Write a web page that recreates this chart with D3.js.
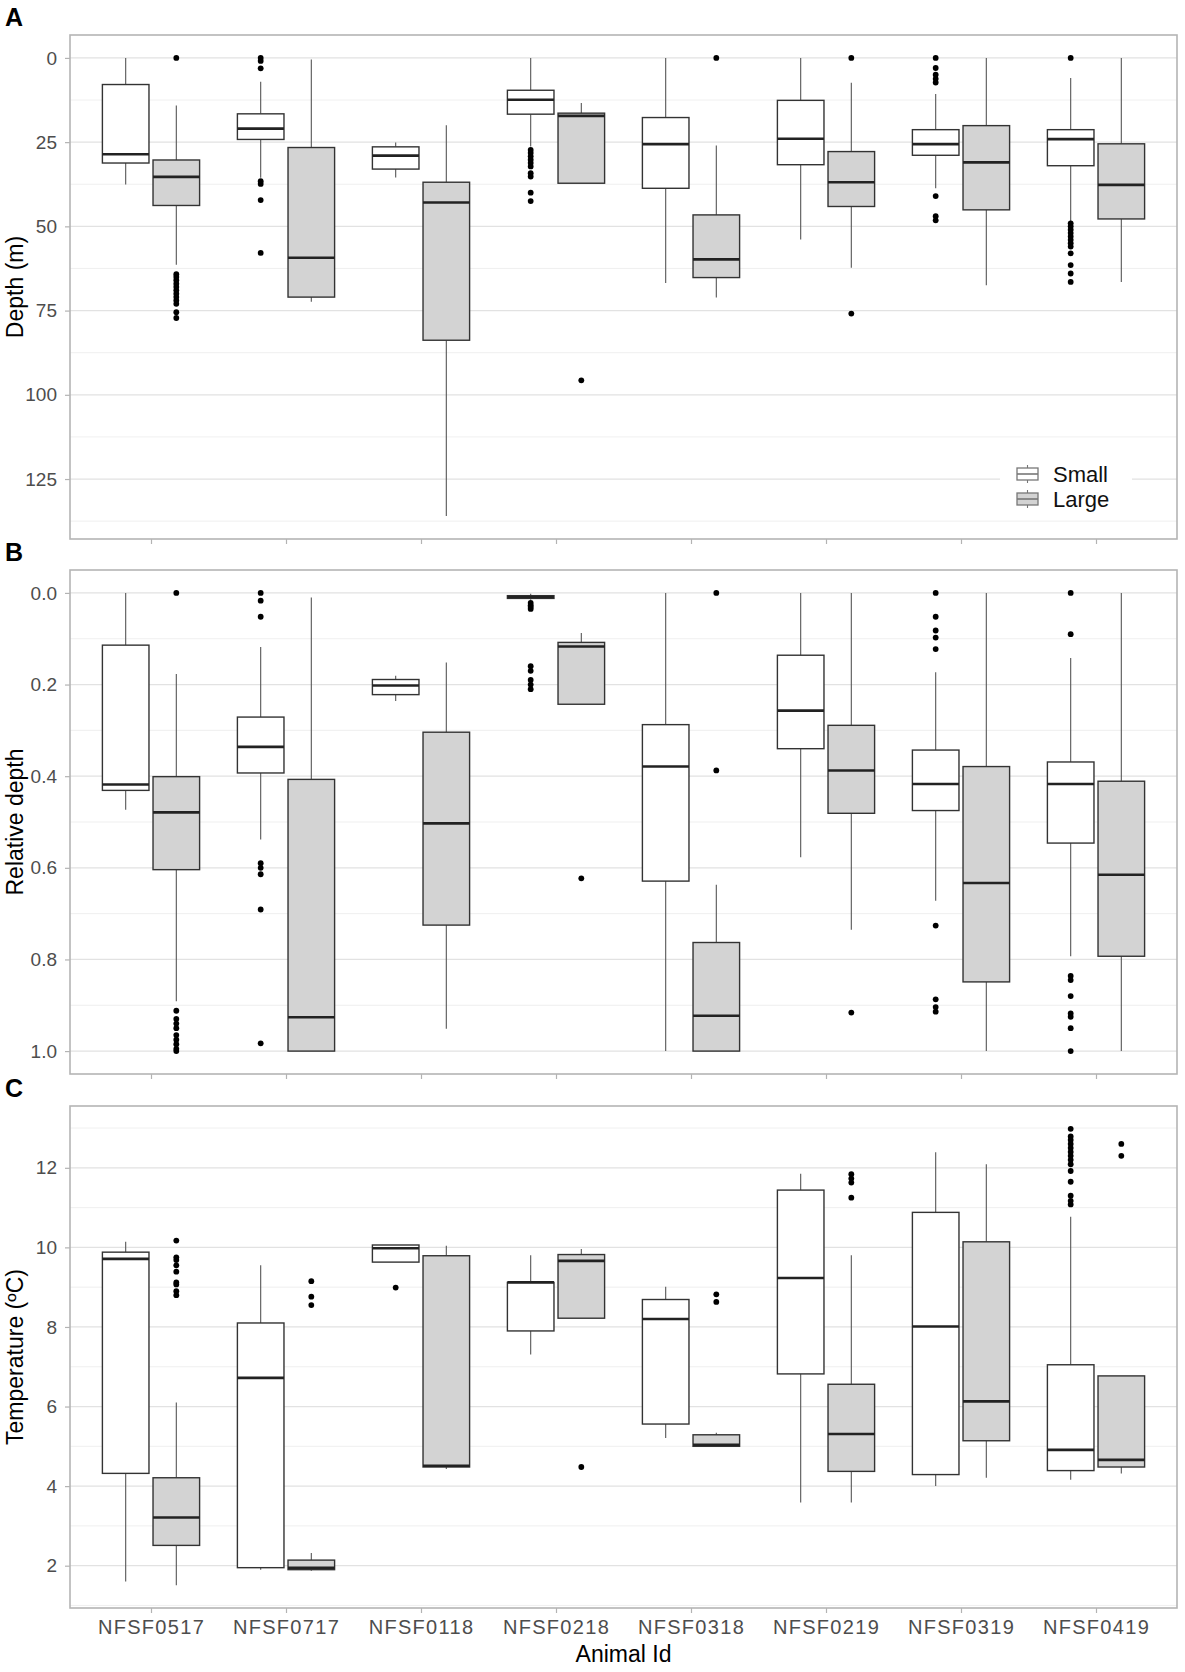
<!DOCTYPE html>
<html><head><meta charset="utf-8">
<script src="https://cdn.jsdelivr.net/npm/d3@7"></script>
<style>
body{margin:0;background:#fff}
svg{display:block}
text{font-family:"Liberation Sans",Arial,Helvetica,sans-serif}
</style>
</head><body>
<svg id="chart" width="1185" height="1672"></svg>
<script>
// ---------- data ----------
const animals = ["NFSF0517","NFSF0717","NFSF0118","NFSF0218","NFSF0318","NFSF0219","NFSF0319","NFSF0419"];
const sizeGroups = ["Small","Large"];

// each box: [lower whisker, Q1, median, Q3, upper whisker]
const depthSmall = [
  [0, 7.9, 28.6, 31.2, 37.6], [7.1, 16.6, 21.0, 24.2, 35.6], [25.1, 26.4, 29.0, 33.0, 35.5],
  [0, 9.6, 12.4, 16.7, 26.3], [0, 17.7, 25.6, 38.7, 66.8], [0, 12.6, 24.0, 31.7, 53.9],
  [10.7, 21.3, 25.6, 28.9, 38.7], [6.0, 21.3, 24.1, 32.0, 48.6]
];
const depthLarge = [
  [14.1, 30.3, 35.3, 43.8, 61.4], [0.5, 26.6, 59.3, 71.0, 72.4], [20.0, 36.9, 42.9, 83.8, 136.0],
  [13.4, 16.4, 17.2, 37.2, 37.2], [26.0, 46.6, 59.8, 65.2, 71.1], [7.4, 27.8, 36.9, 44.1, 62.3],
  [0, 20.1, 31.0, 45.1, 67.5], [0, 25.5, 37.7, 47.8, 66.5]
];
const depthSmallOut = [
  [], [0, 0.9, 3.1, 36.6, 37.4, 42.2, 57.9], [],
  [27.3, 28.2, 29.2, 30.2, 31.2, 32.2, 34.2, 35.2, 40.0, 42.5], [], [],
  [0, 3.0, 5.0, 6.2, 7.3, 41.0, 47.0, 48.2],
  [0, 49.1, 50.0, 51.0, 52.0, 53.0, 54.0, 55.0, 56.0, 58.0, 61.5, 64.0, 66.5]
];
const depthLargeOut = [
  [0, 64.2, 65.0, 66.0, 67.0, 68.0, 69.0, 70.0, 71.0, 72.0, 73.0, 75.5, 77.2], [], [],
  [95.7], [0], [0, 75.9], [], []
];

const relSmall = [
  [0, 0.114, 0.418, 0.431, 0.473], [0.118, 0.271, 0.336, 0.393, 0.538], [0.181, 0.189, 0.202, 0.222, 0.236],
  [0.002, 0.006, 0.009, 0.012, 0.015], [0, 0.2875, 0.379, 0.629, 1.0], [0, 0.136, 0.257, 0.340, 0.577],
  [0.173, 0.343, 0.417, 0.475, 0.672], [0.142, 0.369, 0.417, 0.546, 0.793]
];
const relLarge = [
  [0.177, 0.401, 0.479, 0.604, 0.891], [0.01, 0.407, 0.926, 1.0, 1.0], [0.152, 0.304, 0.503, 0.725, 0.951],
  [0.0875, 0.108, 0.117, 0.243, 0.243], [0.637, 0.763, 0.923, 1.0, 1.0], [0, 0.289, 0.3875, 0.481, 0.735],
  [0, 0.379, 0.633, 0.849, 1.0], [0, 0.411, 0.615, 0.793, 1.0]
];
const relSmallOut = [
  [], [0, 0.017, 0.052, 0.59, 0.60, 0.614, 0.691, 0.983], [],
  [0.022, 0.027, 0.031, 0.035, 0.16, 0.17, 0.19, 0.20, 0.21], [], [],
  [0, 0.052, 0.082, 0.0975, 0.1225, 0.726, 0.887, 0.904, 0.914],
  [0, 0.09, 0.836, 0.845, 0.88, 0.918, 0.925, 0.95, 1.0]
];
const relLargeOut = [
  [0, 0.912, 0.93, 0.94, 0.95, 0.965, 0.975, 0.985, 0.995, 1.0], [], [],
  [0.623], [0, 0.3875], [0.916], [], []
];

const tempSmall = [
  [1.6, 4.32, 9.71, 9.88, 10.14], [1.9, 1.95, 6.72, 8.10, 9.55], [9.63, 9.63, 9.98, 10.06, 10.06],
  [7.31, 7.90, 9.12, 9.12, 9.80], [5.21, 5.56, 8.20, 8.69, 9.01], [3.59, 6.82, 9.23, 11.44, 11.85],
  [4.00, 4.29, 8.01, 10.88, 12.39], [4.16, 4.39, 4.91, 7.05, 10.77]
];
const tempLarge = [
  [1.51, 2.51, 3.21, 4.21, 6.10], [1.87, 1.90, 1.95, 2.14, 2.32], [4.43, 4.48, 4.51, 9.79, 10.04],
  [8.22, 8.22, 9.66, 9.82, 9.96], [5.00, 5.00, 5.04, 5.29, 5.34], [3.59, 4.37, 5.31, 6.56, 9.80],
  [4.21, 5.14, 6.13, 10.14, 12.09], [4.32, 4.48, 4.66, 6.77, 6.77]
];
const tempSmallOut = [
  [], [], [8.99], [], [], [], [],
  [11.08, 11.17, 11.3, 11.65, 11.92, 12.09, 12.2, 12.3, 12.4, 12.5, 12.6, 12.7, 12.79, 12.98]
];
const tempLargeOut = [
  [8.8, 8.9, 9.07, 9.12, 9.39, 9.55, 9.68, 9.75, 10.17], [8.55, 8.76, 9.15], [],
  [4.48], [8.63, 8.82], [11.25, 11.63, 11.73, 11.84], [], [12.3, 12.6]
];

const depthTicks = [0, 25, 50, 75, 100, 125];
const relTicks = [0, 0.2, 0.4, 0.6, 0.8, 1.0];
const tempTicks = [2, 4, 6, 8, 10, 12];

// ---------- layout ----------
const svg = d3.select("#chart");
const left = 70, right = 1177;
const panels = [
  {letter:"A", title:"Depth (m)", top:35, bottom:539, reversed:true, small:depthSmall, large:depthLarge,
   smallOut:depthSmallOut, largeOut:depthLargeOut, ticks:depthTicks, fmt:d3.format("d"), legend:true},
  {letter:"B", title:"Relative depth", top:570, bottom:1074, reversed:true, small:relSmall, large:relLarge,
   smallOut:relSmallOut, largeOut:relLargeOut, ticks:relTicks, fmt:d3.format(".1f")},
  {letter:"C", title:"Temperature (\u00BAC)", top:1106, bottom:1608, reversed:false, small:tempSmall, large:tempLarge,
   smallOut:tempSmallOut, largeOut:tempLargeOut, ticks:tempTicks, fmt:d3.format("d"), xlabels:true}
];

const x = d3.scalePoint().domain(animals).range([left, right]).padding(0.6);
const step = x.step();
const xg = d3.scaleBand().domain(sizeGroups).range([-0.375*step, 0.375*step]);
const boxW = xg.bandwidth()*0.92;
const fills = {Small:"#ffffff", Large:"#d3d3d3"};

panels.forEach(p => {
  const all = [];
  [p.small, p.large].forEach(arr => arr.forEach(b => all.push(...b)));
  [p.smallOut, p.largeOut].forEach(arr => arr.forEach(o => all.push(...o)));
  const ext = d3.extent(all);
  const pad = (ext[1]-ext[0])*0.05;
  const dom = [ext[0]-pad, ext[1]+pad];
  const y = d3.scaleLinear().domain(dom).range(p.reversed ? [p.top, p.bottom] : [p.bottom, p.top]);

  const g = svg.append("g");
  // minor grid
  const st = p.ticks[1]-p.ticks[0];
  const minor = [];
  for (let v = p.ticks[0]-st/2; v <= dom[1]; v += st) if (v >= dom[0]) minor.push(v);
  g.selectAll(".mn").data(minor).join("line")
    .attr("x1", left).attr("x2", right).attr("y1", d=>y(d)).attr("y2", d=>y(d))
    .attr("stroke", "#ededed").attr("stroke-width", 0.9);
  g.selectAll(".mj").data(p.ticks).join("line")
    .attr("x1", left).attr("x2", right).attr("y1", d=>y(d)).attr("y2", d=>y(d))
    .attr("stroke", "#e2e2e2").attr("stroke-width", 1.3);

  // y axis
  const ya = g.append("g").attr("transform", `translate(${left},0)`)
    .call(d3.axisLeft(y).tickValues(p.ticks).tickFormat(p.fmt).tickSize(5).tickPadding(8));
  ya.select(".domain").remove();
  ya.selectAll("line").attr("stroke", "#b3b3b3").attr("stroke-width", 1.2);
  ya.selectAll("text").attr("fill", "#4d4d4d").style("font-size", "19px")
    .style("font-family", '"Liberation Sans",Arial,sans-serif');

  // x axis ticks
  const xa = g.append("g").attr("transform", `translate(0,${p.bottom})`)
    .call(d3.axisBottom(x).tickSize(5).tickPadding(7).tickSizeOuter(0));
  xa.select(".domain").remove();
  xa.selectAll("line").attr("stroke", "#b3b3b3").attr("stroke-width", 1.2);
  xa.selectAll("text").attr("fill", "#4d4d4d").style("font-size", "20px")
    .style("letter-spacing", "1.3px")
    .style("font-family", '"Liberation Sans",Arial,sans-serif');
  if (!p.xlabels) xa.selectAll("text").remove();

  // legend background (inside panel A)
  if (p.legend) {
    g.append("rect").attr("x", 1000).attr("y", 455).attr("width", 132).attr("height", 57).attr("fill", "#fff");
  }

  // boxes
  sizeGroups.forEach(grp => {
    const boxes = grp === "Small" ? p.small : p.large;
    const outs = grp === "Small" ? p.smallOut : p.largeOut;
    const data = boxes.map((b, i) => ({animal: animals[i], b, out: outs[i]}));
    const cx = d => x(d.animal) + xg(grp) + xg.bandwidth()/2;
    const bg = g.append("g");
    // whiskers
    bg.selectAll(".wl").data(data).join("line")
      .attr("x1", cx).attr("x2", cx).attr("y1", d=>y(d.b[0])).attr("y2", d=>y(d.b[1]))
      .attr("stroke", "#555").attr("stroke-width", 1.1);
    bg.selectAll(".wu").data(data).join("line")
      .attr("x1", cx).attr("x2", cx).attr("y1", d=>y(d.b[3])).attr("y2", d=>y(d.b[4]))
      .attr("stroke", "#555").attr("stroke-width", 1.1);
    // box
    bg.selectAll(".bx").data(data).join("rect")
      .attr("x", d => cx(d)-boxW/2).attr("width", boxW)
      .attr("y", d => Math.min(y(d.b[1]), y(d.b[3])))
      .attr("height", d => Math.max(0.5, Math.abs(y(d.b[3])-y(d.b[1]))))
      .attr("fill", fills[grp]).attr("stroke", "#333").attr("stroke-width", 1.4);
    // median
    bg.selectAll(".md").data(data).join("line")
      .attr("x1", d => cx(d)-boxW/2).attr("x2", d => cx(d)+boxW/2)
      .attr("y1", d=>y(d.b[2])).attr("y2", d=>y(d.b[2]))
      .attr("stroke", "#222").attr("stroke-width", 2.6);
    // outliers
    const pts = [];
    data.forEach(d => d.out.forEach(v => pts.push({animal:d.animal, v})));
    bg.selectAll(".ol").data(pts).join("circle")
      .attr("cx", cx).attr("cy", d=>y(d.v)).attr("r", 2.9).attr("fill", "#000");
  });

  // panel border
  g.append("rect").attr("x", left).attr("y", p.top).attr("width", right-left).attr("height", p.bottom-p.top)
    .attr("fill", "none").attr("stroke", "#b5b5b5").attr("stroke-width", 1.6);

  // panel letter
  g.append("text").attr("x", 5).attr("y", p.top-9).text(p.letter)
    .style("font-size", "25px").style("font-weight", "bold").attr("fill", "#000");

  // y title
  g.append("text").attr("transform", `translate(23,${(p.top+p.bottom)/2}) rotate(-90)`)
    .attr("text-anchor", "middle").text(p.title).style("font-size", "23px").attr("fill", "#000");

  // legend
  if (p.legend) {
    const lg = g.append("g");
    const keyX = 1017, keyW = 21;
    const rows = [{grp:"Small", cy:474}, {grp:"Large", cy:499}];
    rows.forEach(r => {
      lg.append("line").attr("x1", keyX+keyW/2).attr("x2", keyX+keyW/2).attr("y1", r.cy-9).attr("y2", r.cy+9)
        .attr("stroke", "#777").attr("stroke-width", 1.1);
      lg.append("rect").attr("x", keyX).attr("y", r.cy-6).attr("width", keyW).attr("height", 12)
        .attr("fill", fills[r.grp]).attr("stroke", "#777").attr("stroke-width", 1.3);
      lg.append("line").attr("x1", keyX).attr("x2", keyX+keyW).attr("y1", r.cy).attr("y2", r.cy)
        .attr("stroke", "#777").attr("stroke-width", 1.6);
      lg.append("text").attr("x", 1053).attr("y", r.cy+8).text(r.grp)
        .style("font-size", "22px").attr("fill", "#111");
    });
  }
});

// x title
svg.append("text").attr("x", (left+right)/2).attr("y", 1662).attr("text-anchor", "middle")
  .text("Animal Id").style("font-size", "23px").attr("fill", "#000");
</script>
</body></html>
